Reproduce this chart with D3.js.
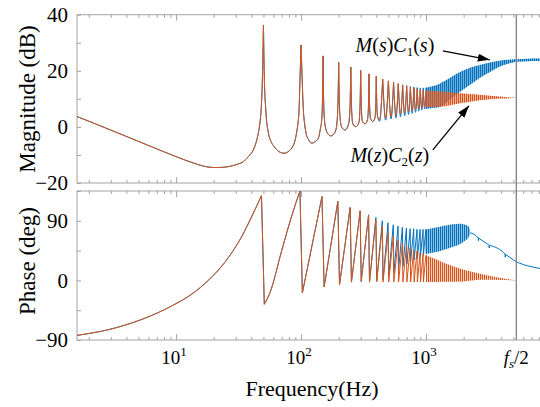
<!DOCTYPE html>
<html>
<head>
<meta charset="utf-8">
<script src="https://cdn.jsdelivr.net/npm/d3@7"></script>
<style>
  body { margin: 0; background: #fff; }
  svg { display: block; }
  .frame { fill: none; stroke: #a3a3a3; stroke-width: 1; }
  .tick line { stroke: #a3a3a3; }
  .s { fill: none; stroke: #0072BD; stroke-width: 1; }
  .z { fill: none; stroke: #D95319; stroke-width: 1; }
</style>
</head>
<body>
<svg id="chart" width="540" height="407" font-family="'Liberation Serif', 'Times New Roman', 'DejaVu Serif', serif"></svg>
<script>
// ---- data: [Hz, value] ----
// magnitude (dB), both controllers lie on top of each other up to 400 Hz
const magShared = [[1.61,3.7],[2.5,0.3],[4,-3.4],[6.3,-7.0],[10,-10.6],[14,-13.0],[18,-14.3],[21,-14.5],
  [26,-14.2],[31,-13.3],[34.5,-12.4],[38,-10.5],[41.5,-8.2],[44,-5],[45.5,-2.2],[47,2],[47.9,6.1],[49.1,17.9],
  [50,36.3],[50.8,17.9],[52.2,6.1],[54.8,-2.2],[57.5,-5.2],[60.9,-7.0],[66,-8.7],[73,-9.4],[79,-8.8],[84,-7.6],
  [89,-5.2],[92,-2.2],[94.5,1.5],[96.4,6.1],[98.2,17.9],[100,29.2],[101.9,17.9],[104.3,6.1],[106.5,1.5],
  [109.6,-2.2],[115,-4.6],[122,-5.8],[130,-5.2],[137.6,-4.0],[143,-0.5],[146.3,2.5],[148.5,10],[150,25.3],
  [151.5,10],[154,2.5],[158,-0.8],[165,-2.6],[173,-3.2],[182,-2.6],[190,-1],[195,3],[198,11],[200,23.0],
  [202,11],[205.5,3],[212,-0.2],[225,-1.1],[240,1],[246,6],[250,21.3],[254,6],[260,1],[275,0.1],[290,1.5],
  [296,6.5],[300,20.1],[304,6.5],[310,2],[325,1.1],[340,2.5],[346,7],[350,18.9],[354,7],[360,3],[375,1.9],
  [390,3.2],[396,7.5],[400,18.0]];
const magZTail = [[404,7.5],[410,3.8],[425,2.6],[450,17.0],[475,3.1],[500,16.4],[525,3.6],[550,15.9],
  [575,4.1],[600,15.4],[625,4.6],[650,15.0],[675,5.0],[700,14.6],[725,5.4],[750,14.2],[775,5.8],[800,13.9],
  [825,6.2],[850,13.6],[875,6.5],[900,13.3],[925,6.8],[950,13.0],[975,7.1],[1000,12.9]];
const magSTail = [[404,7.5],[410,3.5],[425,2.0],[450,17.0],[475,2.4],[500,16.4],[525,2.8],[550,15.9],
  [575,3.2],[600,15.4],[625,3.6],[650,15.0],[675,4.0],[700,14.7],[725,4.4],[750,14.4],[775,4.8],[800,14.2],
  [825,5.2],[850,14.0],[875,5.6],[900,13.9],[925,6.0],[950,13.9],[975,6.4],[1000,14.0]];
// dense ripple above 1 kHz: [Hz, low, high]
const magBandS = [[1000,6.4,14.0],[1150,6.8,14.6],[1300,7.2,15.5],[1560,9.8,17.5],[1870,12.5,19.6],
  [2250,15.0,21.1],[2700,17.5,22.1],[3250,19.6,23.0],[3900,21.5,23.6],[4600,22.6,23.9],[5280,23.2,24.1],
  [6500,23.4,24.3],[8170,23.5,24.4]];
const magBandZ = [[1000,7.1,13.0],[1300,7.2,12.6],[1870,8.4,12.0],[2700,9.5,11.5],[3900,10.1,10.8],[5280,10.3,10.35]];

// phase (deg)
const phShared = [[1.61,-83],[2.87,-74.4],[5.3,-59],[9.8,-35.9],[13.4,-20.5],[18.1,0],[24.7,28],[33.6,66.6],
  [40.5,97.4],[48.2,128],[50.8,-36],[56.5,-18],[70,45],[85,100],[98,135],[102.4,-19],[147,126.6],[153,-10],
  [197,119.5],[203,-6.7],[247,110],[253,-2.6],[297,105],[303,-1.5],[347,99],[353,-2.6]];
const phZTail = [[397,91],[403,-2],[447,82],[453,-2.5],[497,72],[503,-2.5],[547,66],[553,-2.5],[597,61],
  [603,-2.5],[647,56],[653,-2.5],[697,52],[703,-2.5],[747,49],[753,-2.5],[797,46],[803,-2.5],[847,44],
  [853,-2.5],[897,42],[903,-2.5],[947,40],[953,-2.5],[997,38]];
const phSTail = [[397,95],[403,-1],[447,90],[453,1],[497,87],[503,6],[547,84],[553,11],[597,82],[603,16],
  [647,80],[653,21],[697,79],[703,25],[747,78],[753,28],[797,78],[803,31],[847,77],[853,33],[897,77],
  [903,36],[947,77],[953,38],[997,77],[1003,40]];
const phBandS = [[1000,40,77],[1150,42,79],[1370,46,82],[1600,50,84.5],[1870,55,85.6],[2050,60,84],
  [2170,64,82],[2250,70,77]];
const phSEnd = [[2250,72],[2620,64],[2625,60],[2630,64],[3040,56],[3200,53],[3205,49],[3210,53],
  [4300,39.5],[4305,35],[4310,39.5],[5000,31],[5280,28],[5600,26],[6500,22],[8170,18]];
const phBandZ = [[1000,-2.5,38],[1200,-2.3,32],[1500,-2,24],[2000,-1.5,16],[2700,1,10],[3500,1,5.5],
  [4300,0.5,2.5],[5280,0,0.2]];

const fHalf = 5280;
const xMajor = [10, 100, 1000];
const magTicks = [-20, -10, 0, 10, 20, 30, 40], magLabels = [-20, 0, 20, 40];
const phTicks = [-90, -45, 0, 45, 90, 135], phLabels = [-90, 0, 90];
// annotation anchors in data units: text [Hz, dB], arrow from/to [Hz, dB]
const noteS = {text: [564, 26.7], from: [1364, 27.1], to: [3240, 23.9]};
const noteZ = {text: [513, -12.5], from: [1134, -8.2], to: [2204, 7.5]};

const svg = d3.select("#chart");
const serif = "'Liberation Serif', 'Times New Roman', 'DejaVu Serif', serif";
const x = d3.scaleLog().domain([1.61, 8170]).range([77, 540]);
const yMag = d3.scaleLinear().domain([-20, 40]).range([183, 14.7]);
const yPh = d3.scaleLinear().domain([-90, 135]).range([340, 191]);
const xMinor = x.ticks().filter(t => !xMajor.includes(t));

svg.append("defs").html(
  '<clipPath id="cm"><rect x="77" y="14.7" width="470" height="168.3"/></clipPath>' +
  '<clipPath id="cp"><rect x="77" y="191" width="470" height="149"/></clipPath>' +
  '<pattern id="hs" patternUnits="userSpaceOnUse" width="2" height="6"><rect width="1.2" height="6" fill="#0072BD"/></pattern>' +
  '<pattern id="hz" patternUnits="userSpaceOnUse" width="2" height="6"><rect width="1.1" height="6" fill="#D95319"/></pattern>' +
  '<marker id="ah" markerUnits="userSpaceOnUse" markerWidth="13" markerHeight="9" refX="12" refY="4" orient="auto">' +
  '<path d="M0,0L12,4L0,8Z" fill="#000"/></marker>');

// split a series at its extremes so each piece is monotone and peaks stay sharp
function pathFor(data, y, split) {
  const line = d3.line().x(d => x(d[0])).y(d => y(d[1])).curve(d3.curveMonotoneX);
  const pieces = [];
  let cur = [data[0]];
  for (let i = 1; i < data.length; i++) {
    cur.push(data[i]);
    if (i < data.length - 1 && split(data[i - 1][1], data[i][1], data[i + 1][1])) {
      pieces.push(cur); cur = [data[i]];
    }
  }
  pieces.push(cur);
  return pieces.map((p, k) => k ? line(p).replace(/^M/, "L") : line(p)).join("");
}
const atPeak = (a, b, c) => b > a && b > c;
const atTurn = (a, b, c) => (b > a && b > c) || (b < a && b < c);

function panel(y, top, bottom, ticks, labels, clip) {
  const g = svg.append("g");
  [[xMinor, 3], [xMajor, 6]].forEach(([vals, len]) => {
    g.append("g").attr("transform", `translate(0,${top})`)
      .call(d3.axisTop(x).tickValues(vals).tickSize(-len).tickFormat(""));
    g.append("g").attr("transform", `translate(0,${bottom})`)
      .call(d3.axisBottom(x).tickValues(vals).tickSize(-len).tickFormat(""));
  });
  g.append("g").attr("transform", "translate(77,0)")
    .call(d3.axisLeft(y).tickValues(ticks).tickSize(-4).tickPadding(9)
      .tickFormat(d => labels.includes(d) ? d3.format("")(d) : ""))
    .attr("font-family", serif).attr("font-size", 21)
    .selectAll("text").attr("fill", "#000");
  g.selectAll(".domain").remove();
  g.append("rect").attr("class", "frame").attr("x", 77).attr("y", top).attr("width", 470).attr("height", bottom - top);
  return svg.append("g").attr("clip-path", `url(#${clip})`);
}

const gm = panel(yMag, 14.7, 183, magTicks, magLabels, "cm");
const gp = panel(yPh, 191, 340, phTicks, phLabels, "cp");

const bandArea = y => d3.area().x(d => x(d[0])).y0(d => y(d[1])).y1(d => y(d[2])).curve(d3.curveMonotoneX);
function band(g, data, y, color, pat, tint) {
  g.append("path").datum(data).attr("fill", color).attr("fill-opacity", tint).attr("d", bandArea(y));
  g.append("path").datum(data).attr("fill", `url(#${pat})`).attr("d", bandArea(y));
}

// magnitude: blue first, orange on top
gm.append("path").attr("class", "s").attr("d", pathFor(magShared.concat(magSTail), yMag, atPeak));
band(gm, magBandS, yMag, "#0072BD", "hs", 0.45);
gm.append("path").attr("class", "z").attr("d", pathFor(magShared.concat(magZTail), yMag, atPeak));
band(gm, magBandZ, yMag, "#D95319", "hz", 0.35);

// phase
gp.append("path").attr("class", "s").attr("d", pathFor(phShared.concat(phSTail), yPh, atTurn));
band(gp, phBandS, yPh, "#0072BD", "hs", 0.3);
gp.append("path").attr("class", "s").attr("d", pathFor(phSEnd, yPh, atTurn));
gp.append("path").attr("class", "z").attr("d", pathFor(phShared.concat(phZTail), yPh, atTurn));
band(gp, phBandZ, yPh, "#D95319", "hz", 0.2);

// fs/2 marker
svg.append("line").attr("x1", x(fHalf)).attr("x2", x(fHalf)).attr("y1", 14.7).attr("y2", 340)
  .attr("stroke", "#808080").attr("stroke-width", 1.3);

// x tick labels
const xl = svg.append("g").attr("font-size", 19).attr("text-anchor", "middle");
xMajor.forEach((v, i) => {
  const t = xl.append("text").attr("x", x(v) - 2).attr("y", 364);
  t.append("tspan").text("10");
  t.append("tspan").attr("font-size", 13).attr("dy", -8).text(i + 1);
});
const fl = xl.append("text").attr("x", x(fHalf)).attr("y", 364);
fl.append("tspan").attr("font-style", "italic").text("f");
fl.append("tspan").attr("font-style", "italic").attr("font-size", 13).attr("dy", 4).text("s");
fl.append("tspan").attr("dy", -4).text("/2");

// axis titles
svg.append("text").attr("x", 312).attr("y", 396).attr("font-size", 22).attr("text-anchor", "middle").text("Frequency(Hz)");
svg.append("text").attr("transform", "translate(27,99) rotate(-90)").attr("dy", "0.35em")
  .attr("font-size", 23).attr("text-anchor", "middle").text("Magnitude (dB)");
svg.append("text").attr("transform", "translate(27,261) rotate(-90)").attr("dy", "0.35em")
  .attr("font-size", 23).attr("text-anchor", "middle").text("Phase (deg)");

// annotations
function note(n, sub, v) {
  const t = svg.append("text").attr("x", x(n.text[0])).attr("y", yMag(n.text[1]))
    .attr("font-size", 20).attr("text-anchor", "middle");
  t.append("tspan").attr("font-style", "italic").text("M");
  t.append("tspan").text("(");
  t.append("tspan").attr("font-style", "italic").text(v);
  t.append("tspan").text(")");
  t.append("tspan").attr("font-style", "italic").text("C");
  t.append("tspan").attr("font-size", 13).attr("dy", 4).text(sub);
  t.append("tspan").attr("dy", -4).text("(");
  t.append("tspan").attr("font-style", "italic").text(v);
  t.append("tspan").text(")");
  svg.append("line").attr("x1", x(n.from[0])).attr("y1", yMag(n.from[1]))
    .attr("x2", x(n.to[0])).attr("y2", yMag(n.to[1]))
    .attr("stroke", "#000").attr("stroke-width", 1.3).attr("marker-end", "url(#ah)");
}
note(noteS, "1", "s");
note(noteZ, "2", "z");
</script>
</body>
</html>
